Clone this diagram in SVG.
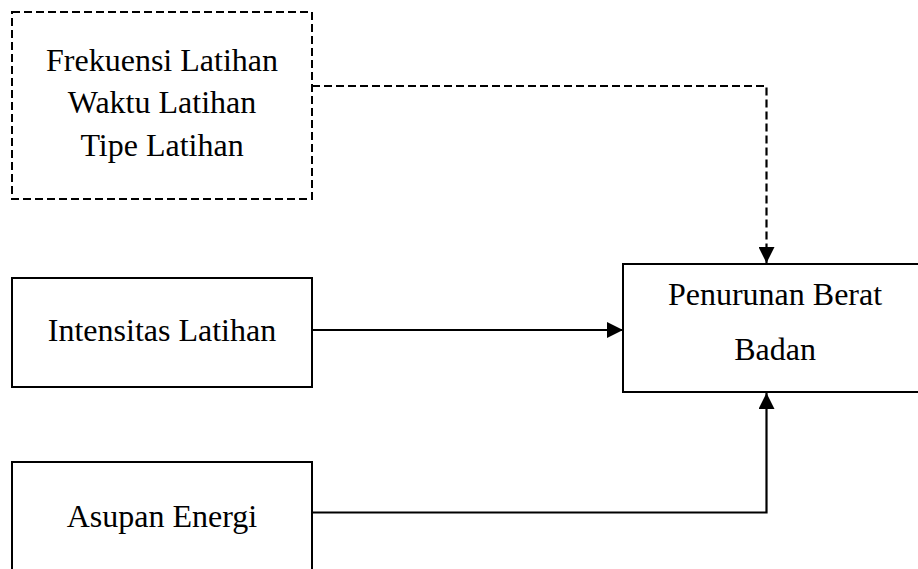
<svg xmlns="http://www.w3.org/2000/svg" width="918" height="569" viewBox="0 0 918 569">
<style>
.box{fill:#fff;stroke:#000;stroke-width:2}
.dash{stroke-dasharray:8 4}
.t{font-family:"Liberation Serif","Times New Roman",serif;font-size:32px;fill:#000;text-anchor:middle}
.c{fill:none;stroke:#000;stroke-width:2.2}
</style>
<defs>
<marker id="ah" markerWidth="16" markerHeight="16" viewBox="0 0 16 16" refX="16" refY="8" orient="auto" markerUnits="userSpaceOnUse">
<path d="M0,0 L16,8 L0,16 Z" fill="#000"/>
</marker>
</defs>
<rect width="918" height="569" fill="#fff"/>
<g id="connectors">
<path class="c dash" d="M312,86 H766.5 V263" marker-end="url(#ah)"/>
<path class="c" d="M312,330 H623" marker-end="url(#ah)"/>
<path class="c" d="M312,512.5 H766.5 V393" marker-end="url(#ah)"/>
</g>
<g id="node-frekuensi">
<rect class="box dash" x="12" y="12" width="300" height="187"/>
<text class="t" x="162" y="71">Frekuensi Latihan</text>
<text class="t" x="162" y="113">Waktu Latihan</text>
<text class="t" x="162" y="156">Tipe Latihan</text>
</g>
<g id="node-intensitas">
<rect class="box" x="12" y="278" width="300" height="109"/>
<text class="t" x="162" y="341">Intensitas Latihan</text>
</g>
<g id="node-asupan">
<rect class="box" x="12" y="462" width="300" height="130"/>
<text class="t" x="162" y="527">Asupan Energi</text>
</g>
<g id="node-penurunan">
<rect class="box" x="623" y="264" width="304" height="128"/>
<text class="t" x="775" y="305">Penurunan Berat</text>
<text class="t" x="775" y="360">Badan</text>
</g>
</svg>
